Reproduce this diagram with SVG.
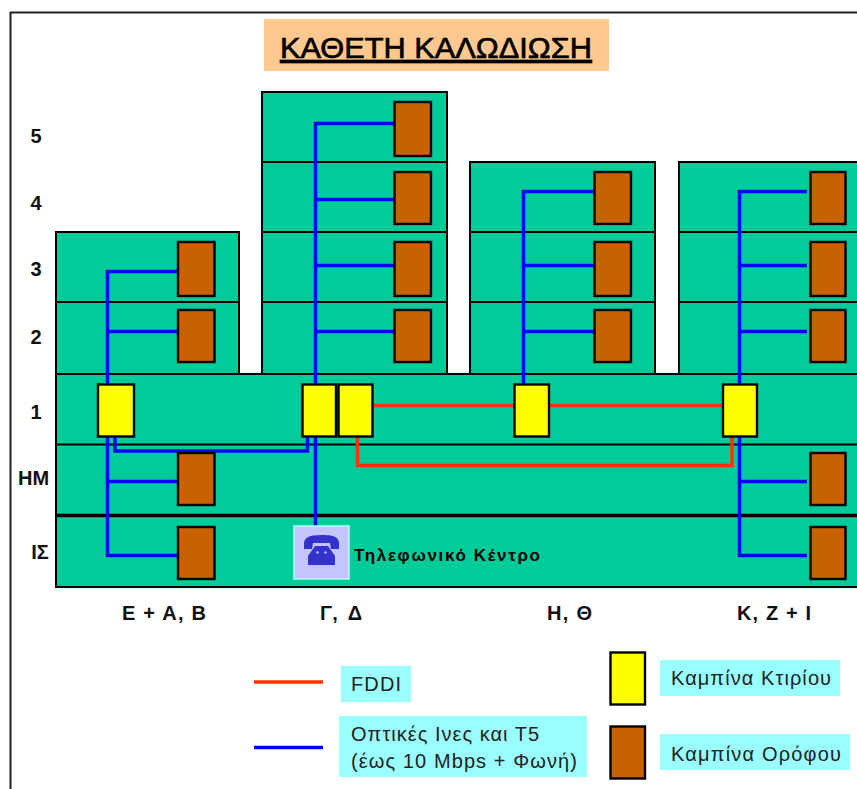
<svg xmlns="http://www.w3.org/2000/svg" width="857" height="789" viewBox="0 0 857 789">
<style>
.g{fill:#00cc99;stroke:#000;stroke-width:2}
.fl{fill:none;stroke:#000;stroke-width:2}
.b{fill:#c66300;stroke:#000;stroke-width:2.400}
.y{fill:#ffff00;stroke:#000;stroke-width:2.400}
.bl{fill:none;stroke:#0000ff;stroke-width:3.500}
.rd{fill:none;stroke:#ff3300;stroke-width:3.500}
.c{fill:#99ffff}
text{font-family:"Liberation Sans",Arial,sans-serif;fill:#000}
.lb{font-weight:bold;font-size:20px;text-anchor:middle;fill:#111}
.lg{font-size:20px;fill:#222}
</style>
<rect width="857" height="789" fill="#fff"/>
<path id="frame" d="M10.500 789V12.500H857" fill="none" stroke="#222" stroke-width="2"/>
<g id="title"><rect x="264" y="19" width="345" height="52" fill="#ffc88f"/><text x="280" y="58" font-size="30" stroke="#000" stroke-width="0.700" textLength="312" lengthAdjust="spacingAndGlyphs" text-decoration="underline">ΚΑΘΕΤΗ ΚΑΛΩΔΙΩΣΗ</text></g>
<g id="building">
<path class="g" d="M56 374V232H239V374H262V92H447V374H470V162H655V374H679V162H858V587H56V374Z"/>
<path class="fl" d="M262 162H447M262 232H447M470 232H655M679 232H858M56 302H239M262 302H447M470 302H655M679 302H858M56 374H858M56 444.500H858"/>
<path d="M56 515.500H858" stroke="#000" stroke-width="3.500"/>
</g>
<g id="levels">
<text class="lb" x="36" y="143">5</text><text class="lb" x="36" y="210">4</text><text class="lb" x="36" y="276">3</text><text class="lb" x="36" y="344">2</text><text class="lb" x="36" y="419">1</text><text class="lb" x="33.500" y="485">ΗΜ</text><text class="lb" x="40" y="559">ΙΣ</text>
</g>
<g id="connectors">
<path class="bl" d="M107.500 384V271.500H178M107.500 331.500H178"/>
<path class="bl" d="M107.500 436V555.500H178M107.500 481.500H178"/>
<path class="bl" d="M115 436V451H307.500V436"/>
<path class="bl" d="M315.500 384V123.500H394M315.500 199.500H394M315.500 265.500H394M315.500 331.500H394M315.500 436V526"/>
<path class="bl" d="M523.500 384V191.500H594M523.500 265.500H594M523.500 331.500H594"/>
<path class="bl" d="M739.500 384V191.500H807M739.500 265.500H807M739.500 331.500H807M739.500 436V555.500H807M739.500 481.500H807"/>
<path class="rd" d="M372 405.500H723"/>
<path class="rd" d="M357.500 436V465.500H732V436"/>
</g>
<g id="floor-cabinets">
<rect class="b" x="178" y="242" width="36.500" height="54"/><rect class="b" x="178" y="310" width="36.500" height="52"/><rect class="b" x="178" y="453" width="36.500" height="52"/><rect class="b" x="178" y="527" width="36.500" height="52"/>
<rect class="b" x="394.500" y="102" width="36.500" height="54"/><rect class="b" x="394.500" y="172" width="36.500" height="52"/><rect class="b" x="394.500" y="242" width="36.500" height="54"/><rect class="b" x="394.500" y="310" width="36.500" height="52"/>
<rect class="b" x="594.500" y="172" width="36.500" height="52"/><rect class="b" x="594.500" y="242" width="36.500" height="54"/><rect class="b" x="594.500" y="310" width="36.500" height="52"/>
<rect class="b" x="810.500" y="172" width="35" height="52"/><rect class="b" x="810.500" y="242" width="35" height="54"/><rect class="b" x="810.500" y="310" width="35" height="52"/><rect class="b" x="810.500" y="453" width="35" height="52"/><rect class="b" x="810.500" y="527" width="35" height="52"/>
</g>
<g id="building-cabinets">
<rect class="y" x="98" y="384.500" width="36" height="52"/><rect class="y" x="302.500" y="384.500" width="33.500" height="52"/><rect class="y" x="338.500" y="384.500" width="34" height="52"/><rect class="y" x="514.500" y="384.500" width="34.500" height="52"/><rect class="y" x="723" y="384.500" width="34" height="52"/>
</g>
<g id="telephone-exchange">
<rect x="294" y="526" width="55" height="53" fill="#c4c4ff" stroke="#b0ffff" stroke-width="1.500"/>
<path d="M304 546C303 538 308 535 322 535C336 535 340 538 339 546L339 549H331L330 543H313L312 549H304Z" fill="#3333cc"/>
<path d="M315 546H328L335 556V565H308V556Z" fill="#3333cc"/>
<circle cx="317.500" cy="552.500" r="1.200" fill="#c4c4ff"/><circle cx="325.500" cy="552.500" r="1.200" fill="#c4c4ff"/>
<text x="354" y="561" font-size="17" font-weight="bold" textLength="186" lengthAdjust="spacing">Τηλεφωνικό Κέντρο</text>
</g>
<g id="column-labels">
<text class="lb" x="164" y="620" textLength="84" lengthAdjust="spacing">Ε + Α, Β</text><text class="lb" x="341" y="620" textLength="42" lengthAdjust="spacing">Γ, Δ</text><text class="lb" x="569.500" y="620" textLength="45" lengthAdjust="spacing">Η, Θ</text><text class="lb" x="774" y="620" textLength="74" lengthAdjust="spacing">Κ, Ζ + Ι</text>
</g>
<g id="legend-fddi"><path class="rd" d="M254 682H323"/><rect class="c" x="341" y="666" width="70" height="36"/><text class="lg" x="351" y="691" textLength="50" lengthAdjust="spacing">FDDI</text></g>
<g id="legend-fibre"><path class="bl" d="M254 747.500H323"/><rect class="c" x="339" y="716" width="248" height="61"/><text class="lg" x="351" y="741" textLength="188" lengthAdjust="spacing">Οπτικές Ινες και Τ5</text><text class="lg" x="351" y="768" textLength="226" lengthAdjust="spacing">(έως 10 Mbps + Φωνή)</text></g>
<g id="legend-building"><rect class="y" x="610.500" y="652.500" width="34.500" height="52"/><rect class="c" x="660" y="660" width="180" height="36"/><text class="lg" x="671" y="685" textLength="160" lengthAdjust="spacing">Καμπίνα Κτιρίου</text></g>
<g id="legend-floor"><rect class="b" x="610.500" y="726.500" width="34.500" height="52"/><rect class="c" x="660" y="734" width="190" height="36"/><text class="lg" x="671" y="761" textLength="170" lengthAdjust="spacing">Καμπίνα Ορόφου</text></g>
</svg>
